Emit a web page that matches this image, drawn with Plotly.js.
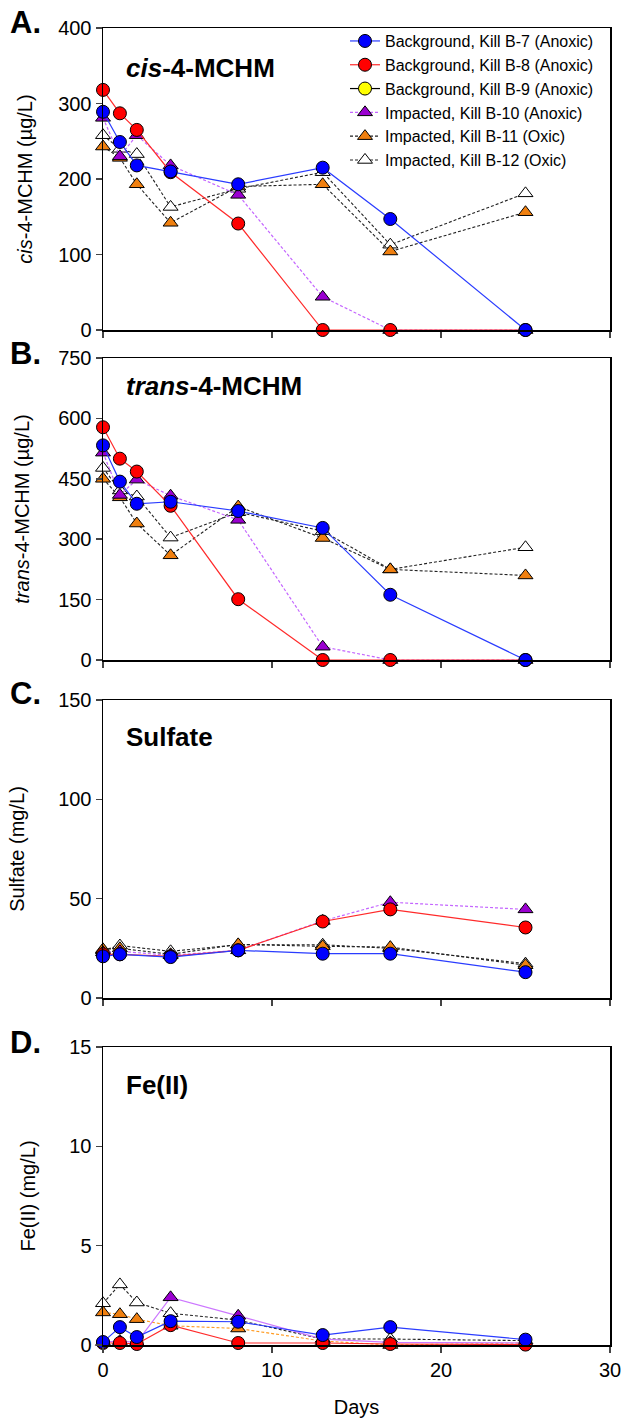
<!DOCTYPE html>
<html>
<head>
<meta charset="utf-8">
<script src="https://cdn.plot.ly/plotly-3.0.1.min.js"></script>
<style>body{margin:0;background:#fff;}#chart{width:621px;height:1418px;}</style>
</head>
<body>
<div id="chart"></div>
<script>
// ---- Data ----
const daysAll = [0, 1, 2, 4, 8, 13, 17, 25];
const daysSulfate = [0, 1, 4, 8, 13, 17, 25];

const seriesNames = [
  "Background, Kill B-7 (Anoxic)",
  "Background, Kill B-8 (Anoxic)",
  "Background, Kill B-9 (Anoxic)",
  "Impacted, Kill B-10 (Anoxic)",
  "Impacted, Kill B-11 (Oxic)",
  "Impacted, Kill B-12 (Oxic)"
];

// Panel A: cis-4-MCHM (µg/L)
const cisB7  = [289, 249, 218, 210, 193, 215, 147, 0];
const cisB8  = [318, 287, 265, 209, 141, 0, 0, 0];
const cisB9  = [null];
const cisB10 = [281, 230, 258, 218, 179, 44, 0, 0];
const cisB11 = [243, 228, 193, 142, 190, 193, 104, 156];
const cisB12 = [258, 240, 233, 163, 187, 209, 113, 181];

// Panel B: trans-4-MCHM (µg/L)
const transB7  = [533, 443, 388, 393, 370, 328, 162, 0];
const transB8  = [578, 500, 468, 383, 151, 0, 0, 0];
const transB10 = [515, 410, 448, 408, 348, 33, 0, 0];
const transB11 = [450, 404, 339, 260, 381, 303, 225, 210];
const transB12 = [477, 421, 406, 304, 367, 320, 225, 280];

// Panel C: Sulfate (mg/L)
const sulB7  = [21, 22, 20.6, 24, 22.3, 22.3, 13];
const sulB8  = [22, 22, 21, 24, 38.5, 44.6, 35.5];
const sulB10 = [23, 23.5, 21.5, 24, 38.8, 48.2, 44.6];
const sulB11 = [24.5, 25, 22, 27, 26, 25.6, 16.5];
const sulB12 = [24, 26.4, 23.5, 26.8, 26.8, 25, 17.3];

// Panel D: Fe(II) (mg/L)
const feB7  = [0.15, 0.9, 0.4, 1.2, 1.17, 0.5, 0.9, 0.27];
const feB8  = [0.1, 0.1, 0.05, 1.0, 0.1, 0.1, 0.05, 0.02];
const feB10 = [0.15, 0.2, 0.13, 2.4, 1.47, 0.3, 0.13, 0.1];
const feB11 = [1.64, 1.55, 1.3, 0.97, 0.83, 0.2, 0.0, 0.1];
const feB12 = [2.1, 3.05, 2.14, 1.6, 1.25, 0.3, 0.3, 0.22];

// ---- Styles ----
const FONT = "Liberation Sans, Arial, Helvetica, sans-serif";
const MS = 13;
function mk(sym, fill){ return {symbol: sym, size: MS, color: fill, line: {color: "#000", width: 1}}; }

const styles = {
  B7:  {marker: mk("circle", "#0000ff"), line: {color: "#2a3cff", width: 1.2}},
  B8:  {marker: mk("circle", "#ff0000"), line: {color: "#ff2a2a", width: 1.2}},
  B9:  {marker: mk("circle", "#ffff00"), line: {color: "#000", width: 1.2}},
  B10: {marker: mk("triangle-up", "#9a00d0"), line: {color: "#c466ff", width: 1.2, dash: "3px,2px"}},
  B11: {marker: mk("triangle-up", "#f08010"), line: {color: "#222", width: 1.1, dash: "3px,2px"}},
  B12: {marker: mk("triangle-up", "#ffffff"), line: {color: "#222", width: 1.1, dash: "3px,2px"}}
};

const traces = [];
function add(panel, x, y, key, name, lineOverride){
  const st = styles[key];
  traces.push({
    type: "scatter", mode: "lines+markers",
    x: x, y: y, name: name,
    xaxis: "x" + (panel === 1 ? "" : panel),
    yaxis: "y" + (panel === 1 ? "" : panel),
    marker: st.marker,
    line: Object.assign({}, st.line, lineOverride || {}),
    cliponaxis: false,
    showlegend: panel === 1,
    legendgroup: key,
    hoverinfo: "x+y+name"
  });
}

// draw order: B-12, B-11, B-10, B-9, B-8, B-7 (blue on top); legend reversed
add(1, daysAll, cisB12, "B12", seriesNames[5]);
add(1, daysAll, cisB11, "B11", seriesNames[4]);
add(1, daysAll, cisB10, "B10", seriesNames[3]);
add(1, [null], cisB9, "B9", seriesNames[2]);
add(1, daysAll, cisB8, "B8", seriesNames[1]);
add(1, daysAll, cisB7, "B7", seriesNames[0]);

add(2, daysAll, transB12, "B12", seriesNames[5]);
add(2, daysAll, transB11, "B11", seriesNames[4]);
add(2, daysAll, transB10, "B10", seriesNames[3]);
add(2, daysAll, transB8, "B8", seriesNames[1]);
add(2, daysAll, transB7, "B7", seriesNames[0]);

add(3, daysSulfate, sulB12, "B12", seriesNames[5]);
add(3, daysSulfate, sulB11, "B11", seriesNames[4]);
add(3, daysSulfate, sulB10, "B10", seriesNames[3]);
add(3, daysSulfate, sulB8, "B8", seriesNames[1]);
add(3, daysSulfate, sulB7, "B7", seriesNames[0]);

add(4, daysAll, feB12, "B12", seriesNames[5]);
add(4, daysAll, feB11, "B11", seriesNames[4], {color: "#ff9a20", dash: "3px,2px"});
add(4, daysAll, feB10, "B10", seriesNames[3], {color: "#cc77ff", dash: "solid"});
add(4, daysAll, feB8, "B8", seriesNames[1]);
add(4, daysAll, feB7, "B7", seriesNames[0]);

// ---- Layout ----
const L = 103, R = 11, T = 28, B = 73, W = 621, H = 1418;
const PW = W - L - R, PH = H - T - B, Y0 = H - B;
const tickFont = {family: FONT, size: 20, color: "#000"};
function xax(anchor, showLabels){
  return {
    anchor: anchor, domain: [0, 1], range: [0, 30], autorange: false,
    tickvals: [0, 10, 20, 30], ticks: "outside", ticklen: 6, tickwidth: 1.5,
    showline: true, linewidth: 1.5, linecolor: "#000", mirror: true,
    showgrid: false, zeroline: false, showticklabels: showLabels,
    ticklabeloverflow: "allow",
    tickfont: tickFont
  };
}
function yax(anchor, top, bottom, rng, tv, titleHtml, standoff){
  return {
    anchor: anchor, domain: [(Y0 - bottom) / PH, (Y0 - top) / PH], range: rng, autorange: false,
    tickvals: tv, ticks: "outside", ticklen: 6, tickwidth: 1.5,
    showline: true, linewidth: 1.5, linecolor: "#000", mirror: true,
    showgrid: false, zeroline: false, tickfont: tickFont,
    ticklabeloverflow: "allow",
    title: {text: titleHtml, font: {family: FONT, size: 20, color: "#000"}, standoff: standoff}
  };
}

const layout = {
  width: W, height: H,
  margin: {l: L, r: R, t: T, b: B},
  paper_bgcolor: "#fff", plot_bgcolor: "#fff",
  font: {family: FONT, color: "#000"},
  showlegend: true,
  legend: {
    x: (345 - L) / PW, y: 1.003, xanchor: "left", yanchor: "top",
    xref: "paper", yref: "paper",
    traceorder: "reversed",
    font: {family: FONT, size: 16, color: "#000"},
    bgcolor: "rgba(0,0,0,0)", borderwidth: 0, tracegroupgap: 0,
    itemwidth: 30
  },
  xaxis: xax("y", false),
  yaxis: yax("x", 28, 330, [0, 400], [0, 100, 200, 300, 400], "<i>cis</i>-4-MCHM (µg/L)", 20),
  xaxis2: xax("y2", false),
  yaxis2: yax("x2", 358, 660, [0, 750], [0, 150, 300, 450, 600, 750], "<i>trans</i>-4-MCHM (µg/L)", 23),
  xaxis3: xax("y3", false),
  yaxis3: yax("x3", 700, 998, [0, 150], [0, 50, 100, 150], "Sulfate (mg/L)", 28),
  xaxis4: Object.assign(xax("y4", true), {title: {text: "Days", font: {family: FONT, size: 20, color: "#000"}, standoff: 20}}),
  yaxis4: yax("x4", 1047, 1345, [0, 15], [0, 5, 10, 15], "Fe(II) (mg/L)", 28),
  annotations: [
    {text: "<b>A.</b>", x: 8, y: 22},
    {text: "<b>B.</b>", x: 8, y: 353},
    {text: "<b>C.</b>", x: 8, y: 694},
    {text: "<b>D.</b>", x: 8, y: 1042}
  ].map(function(a){
    return {text: a.text, xref: "paper", yref: "paper",
      x: (a.x - L) / PW, y: (Y0 - a.y) / PH,
      xanchor: "left", yanchor: "middle", showarrow: false,
      font: {family: FONT, size: 31, color: "#000"}};
  }).concat([
    {text: "<b><i>cis</i>-4-MCHM</b>", px: 124, py: 68},
    {text: "<b><i>trans</i>-4-MCHM</b>", px: 124, py: 386},
    {text: "<b>Sulfate</b>", px: 124, py: 737},
    {text: "<b>Fe(II)</b>", px: 124, py: 1085}
  ].map(function(a){
    return {text: a.text, xref: "paper", yref: "paper",
      x: (a.px - L) / PW, y: (Y0 - a.py) / PH,
      xanchor: "left", yanchor: "middle", showarrow: false,
      font: {family: FONT, size: 26, color: "#000"}};
  }))
};

Plotly.newPlot("chart", traces, layout, {displayModeBar: false, staticPlot: true});
</script>
</body>
</html>
